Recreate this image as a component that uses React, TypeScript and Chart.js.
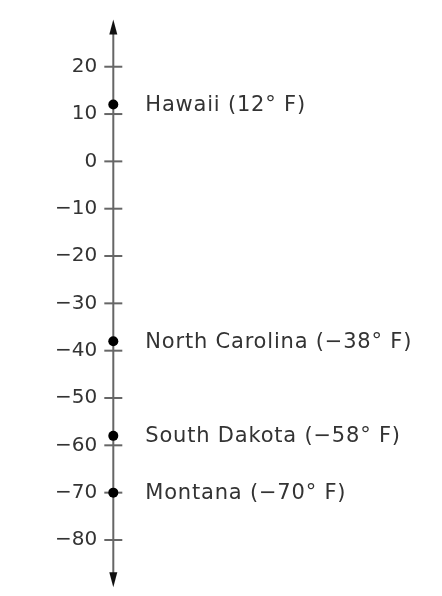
import React, { useEffect, useRef } from "react";
import { Chart, registerables } from "chart.js";

Chart.register(...registerables);

const STATES = ["Hawaii", "North Carolina", "South Dakota", "Montana"];
const TEMPS = [12, -38, -58, -70];
const TICKS = [20, 10, 0, -10, -20, -30, -40, -50, -60, -70, -80];
const AXIS_MIN = -90;
const AXIS_MAX = 30;

const FONT = "DejaVu Sans";
const TEXT_COLOR = "#333333";
const AXIS_COLOR = "#666666";

const fmt = (v: number) => (v < 0 ? "\u2212" + Math.abs(v) : String(v));

const numberLinePlugin = {
  id: "numberLine",
  beforeDatasetsDraw(chart: any) {
    const { ctx, chartArea, scales } = chart;
    const x = scales.x.getPixelForValue(0);
    const y = scales.y;
    ctx.save();
    ctx.strokeStyle = AXIS_COLOR;
    ctx.lineWidth = 2;
    ctx.beginPath();
    ctx.moveTo(x, chartArea.top + 6);
    ctx.lineTo(x, chartArea.bottom - 6);
    ctx.stroke();
    ctx.lineWidth = 2;
    TICKS.forEach((t) => {
      const py = y.getPixelForValue(t);
      ctx.beginPath();
      ctx.moveTo(x - 9, py);
      ctx.lineTo(x + 9, py);
      ctx.stroke();
    });
    ctx.fillStyle = "#111111";
    ctx.beginPath();
    ctx.moveTo(x, chartArea.top);
    ctx.lineTo(x - 4, chartArea.top + 15);
    ctx.lineTo(x + 4, chartArea.top + 15);
    ctx.closePath();
    ctx.fill();
    ctx.beginPath();
    ctx.moveTo(x, chartArea.bottom);
    ctx.lineTo(x - 4, chartArea.bottom - 15);
    ctx.lineTo(x + 4, chartArea.bottom - 15);
    ctx.closePath();
    ctx.fill();
    ctx.restore();
  },
  afterDatasetsDraw(chart: any) {
    const { ctx } = chart;
    const meta = chart.getDatasetMeta(0);
    ctx.save();
    ctx.font = `21px "${FONT}"`;
    (ctx as any).letterSpacing = "0.8px";
    ctx.fillStyle = TEXT_COLOR;
    ctx.textAlign = "left";
    ctx.textBaseline = "middle";
    meta.data.forEach((el: any, i: number) => {
      ctx.fillText(`${STATES[i]} (${fmt(TEMPS[i])}\u00b0 F)`, el.x + 32, el.y + 1);
    });
    ctx.restore();
  },
};

export default function App() {
  const ref = useRef<HTMLCanvasElement>(null);
  useEffect(() => {
    if (!ref.current) return;
    const chart = new Chart(ref.current, {
      type: "scatter",
      data: {
        datasets: [
          {
            data: TEMPS.map((t) => ({ x: 0, y: t })),
            pointRadius: 5,
            pointBackgroundColor: "#000000",
            pointBorderWidth: 0,
            clip: false,
          } as any,
        ],
      },
      options: {
        animation: false,
        responsive: false,
        events: [],
        layout: { padding: { top: 19.4, bottom: 8.7, left: 0, right: 0 } },
        plugins: { legend: { display: false }, tooltip: { enabled: false } },
        scales: {
          x: { type: "linear", min: 0, max: 1, display: false },
          y: {
            type: "linear",
            min: AXIS_MIN,
            max: AXIS_MAX,
            position: "left",
            grid: { display: false, drawTicks: false },
            border: { display: false },
            afterBuildTicks: (scale: any) => {
              scale.ticks = TICKS.map((v) => ({ value: v }));
            },
            afterFit: (scale: any) => {
              scale.width = 113.3;
              scale.paddingTop = 0;
              scale.paddingBottom = 0;
            },
            ticks: {
              padding: 16,
              color: TEXT_COLOR,
              font: { family: FONT, size: 20 },
              callback: (v: any) => fmt(Number(v)),
            },
          },
        },
      },
      plugins: [numberLinePlugin],
    });
    return () => chart.destroy();
  }, []);
  return (
    <div style={{ position: "fixed", left: 0, top: 0, width: 442, height: 596, background: "#fff" }}>
      <canvas ref={ref} width={442} height={596} />
    </div>
  );
}
